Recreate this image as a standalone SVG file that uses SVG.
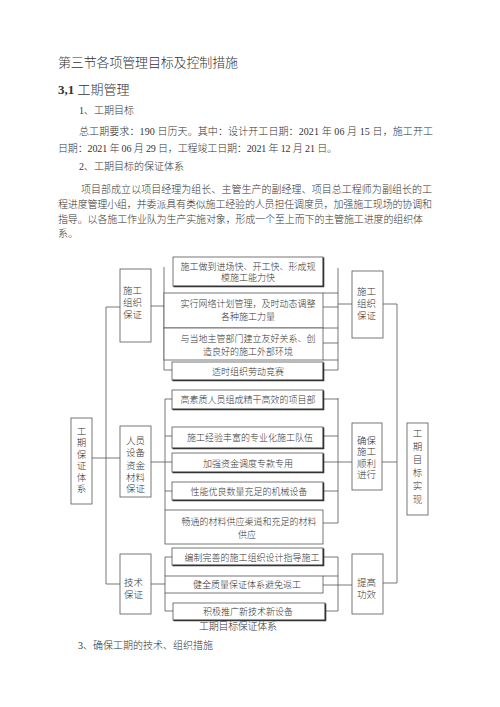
<svg xmlns="http://www.w3.org/2000/svg" width="500" height="707" viewBox="0 0 500 707">
<style>
.t{font-family:"Liberation Serif","Noto Sans CJK SC",serif;fill:#333;font-weight:300}
.b{font-size:10px}
.s{font-size:9px;text-anchor:middle}
.v{font-size:9.5px}
.ln{stroke:#555;stroke-width:0.8;fill:none}
.bx{fill:#fff;stroke:#555;stroke-width:0.8}
.sh{stroke:#333;stroke-width:1.6;fill:none}
</style>
<rect width="500" height="707" fill="#fff"/>
<text class="t" x="58" y="67" font-size="13" textLength="180" fill="#444">第三节各项管理目标及控制措施</text>
<text class="t" x="58" y="94" font-size="13"><tspan font-weight="bold">3,1</tspan> 工期管理</text>
<text class="t b" x="79" y="114">1、工期目标</text>
<text class="t b" x="79" y="135" textLength="354">总工期要求：190 日历天。其中：设计开工日期：2021 年 06 月 15 日，施工开工</text>
<text class="t b" x="58" y="152" textLength="279">日期：2021 年 06 月 29 日，工程竣工日期：2021 年 12 月 21 日。</text>
<text class="t b" x="79" y="170">2、工期目标的保证体系</text>
<text class="t b" x="81" y="193" textLength="351">项目部成立以项目经理为组长、主管生产的副经理、项目总工程师为副组长的工</text>
<text class="t b" x="58" y="208" textLength="374">程进度管理小组，并委派具有类似施工经验的人员担任调度员，加强施工现场的协调和</text>
<text class="t b" x="58" y="223" textLength="365">指导。以各施工作业队为生产实施对象，形成一个至上而下的主管施工进度的组织体</text>
<text class="t b" x="58" y="237">系。</text>

<g id="connectors">
<path class="ln" d="M106,307V584M92,458H120M106,307H120M106,584H120"/>
<path class="ln" d="M151,306H164M164,267V370H172M323,293H338M323,328H338M323,360H338M323,307H338M323,343H338M323,370H338M338,268V370M338,304H352M383,304H397V583H383"/>
<path class="ln" d="M151,462H165M165,399V510M165,399H172M165,436H172M165,462H172M165,491H172M165,522H180M323,399H338M323,436H338M323,462H352M323,491H338M323,523H338M338,398V523M382,462H397"/>
<path class="ln" d="M151,584H165M165,557V576M165,593V611H173M165,557H172M323,557H338M323,576H338M323,585H352M325,611H338M338,557V611"/>
</g>

<g id="n-left"><rect class="bx" x="71" y="418" width="21" height="86"/>
<text class="t v" text-anchor="middle"><tspan x="81.5" y="435">工</tspan><tspan x="81.5" y="446.4">期</tspan><tspan x="81.5" y="457.8">保</tspan><tspan x="81.5" y="469.2">证</tspan><tspan x="81.5" y="480.6">体</tspan><tspan x="81.5" y="492">系</tspan></text></g>

<g id="n-org-l"><rect class="bx" x="120" y="269" width="31" height="73"/>
<text class="t v"><tspan x="123" y="293.5">施工</tspan><tspan x="123" y="306">组织</tspan><tspan x="123" y="318">保证</tspan></text></g>

<g id="n-person"><rect class="bx" x="120" y="426" width="31" height="71"/>
<text class="t v"><tspan x="126" y="443.5">人员</tspan><tspan x="126" y="456">设备</tspan><tspan x="126" y="468.5">资金</tspan><tspan x="126" y="480.5">材料</tspan><tspan x="126" y="492">保证</tspan></text></g>

<g id="n-tech"><rect class="bx" x="120" y="554" width="31" height="60"/>
<text class="t v"><tspan x="124" y="585.5">技术</tspan><tspan x="124" y="597.5">保证</tspan></text></g>

<g id="n-org-r"><rect class="bx" x="352" y="271" width="31" height="67"/>
<text class="t v"><tspan x="357" y="294.5">施工</tspan><tspan x="357" y="306.5">组织</tspan><tspan x="357" y="318.5">保证</tspan></text></g>

<g id="n-ensure"><rect class="bx" x="352" y="423" width="30" height="67"/>
<text class="t v"><tspan x="357" y="443.5">确保</tspan><tspan x="357" y="455">施工</tspan><tspan x="357" y="466.5">顺利</tspan><tspan x="357" y="478">进行</tspan></text></g>

<g id="n-eff"><rect class="bx" x="352" y="554" width="31" height="60"/>
<text class="t v"><tspan x="357" y="585.5">提高</tspan><tspan x="357" y="597.5">功效</tspan></text></g>

<g id="n-goal"><rect class="bx" x="407" y="423" width="21" height="92"/>
<text class="t v" text-anchor="middle"><tspan x="417.5" y="436.5">工</tspan><tspan x="417.5" y="449.7">期</tspan><tspan x="417.5" y="462.9">目</tspan><tspan x="417.5" y="476.1">标</tspan><tspan x="417.5" y="489.3">实</tspan><tspan x="417.5" y="502.5">现</tspan></text></g>

<g id="n-a1"><rect class="bx" x="173" y="257" width="150" height="29"/><path class="sh" d="M323.5,257.5V286.5H173.5"/>
<text class="t s" font-size="9.2"><tspan x="248" y="270">施工做到进场快、开工快、形成规</tspan><tspan x="248" y="281">模施工能力快</tspan></text></g>
<g id="n-a2"><rect class="bx" x="164" y="293" width="159" height="35"/>
<text class="t s"><tspan x="248" y="307">实行网络计划管理，及时动态调整</tspan><tspan x="248" y="320">各种施工力量</tspan></text></g>
<g id="n-a3"><rect class="bx" x="164" y="328" width="159" height="32"/>
<text class="t s"><tspan x="248" y="342">与当地主管部门建立友好关系、创</tspan><tspan x="248" y="355">造良好的施工外部环境</tspan></text></g>
<g id="n-a4"><rect class="bx" x="172" y="362" width="151" height="18"/><path class="sh" d="M323.5,362.5V380.5H172.5"/>
<text class="t s" x="248" y="375">适时组织劳动竞赛</text></g>

<g id="n-p1"><rect class="bx" x="172" y="390" width="151" height="19"/><path class="sh" d="M323.5,390.5V409.5H172.5"/>
<text class="t s" x="248" y="403">高素质人员组成精干高效的项目部</text></g>
<g id="n-p2"><rect class="bx" x="172" y="427" width="151" height="21"/><path class="sh" d="M323.5,427.5V448.5H172.5"/>
<text class="t s" x="250" y="440.5">施工经验丰富的专业化施工队伍</text></g>
<g id="n-p3"><rect class="bx" x="172" y="453" width="151" height="19"/><path class="sh" d="M323.5,453.5V472.5H172.5"/>
<text class="t s" x="248" y="467">加强资金调度专款专用</text></g>
<g id="n-p4"><rect class="bx" x="172" y="482" width="151" height="18"/><path class="sh" d="M323.5,482.5V500.5H172.5"/>
<text class="t s" x="249" y="495">性能优良数量充足的机械设备</text></g>
<g id="n-p5"><rect class="bx" x="165" y="510" width="158" height="34"/>
<text class="t s"><tspan x="249" y="525">畅通的材料供应渠道和充足的材料</tspan><tspan x="247" y="537.5">供应</tspan></text></g>

<g id="n-t1"><rect class="bx" x="172" y="548" width="151" height="17"/><path class="sh" d="M323.5,548.5V565.5H172.5"/>
<text class="t s" x="252" y="561">编制完善的施工组织设计指导施工</text></g>
<g id="n-t2"><rect class="bx" x="165" y="576" width="158" height="17"/>
<text class="t s" x="247" y="588">健全质量保证体系避免返工</text></g>
<g id="n-t3"><rect class="bx" x="173" y="603" width="152" height="17"/><path class="sh" d="M325.5,603.5V620.5H173.5"/>
<text class="t s" x="248" y="615">积极推广新技术新设备</text></g>

<text class="t" x="199" y="630" font-size="10" textLength="78">工期目标保证体系</text>
<text class="t b" x="78" y="649">3、确保工期的技术、组织措施</text>
</svg>
